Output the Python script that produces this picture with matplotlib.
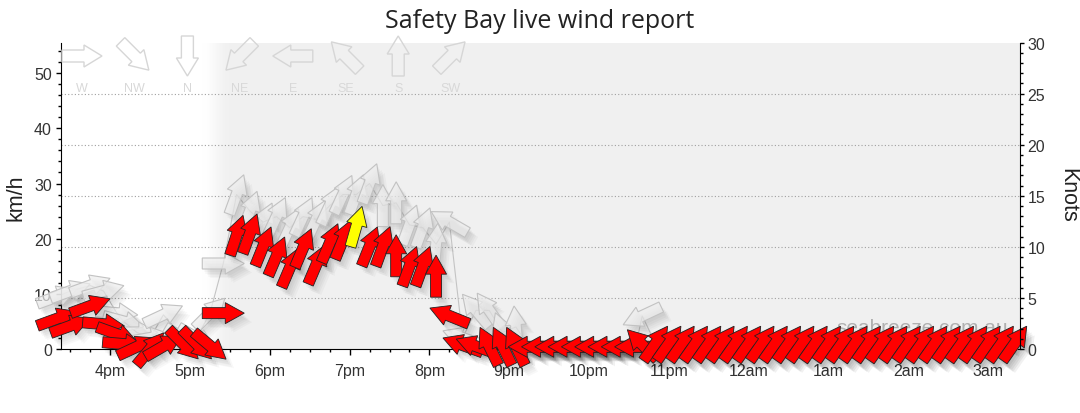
import numpy as np
import matplotlib
matplotlib.use("Agg")
import matplotlib.pyplot as plt
from matplotlib.patches import Polygon
from matplotlib import transforms
from matplotlib.ticker import MultipleLocator, FixedLocator

plt.rcParams['font.family'] = ['Liberation Sans', 'DejaVu Sans']

KMH_PER_KNOT = 1.852

# observation times (local), wind / gust in km/h, direction the wind comes FROM (deg)
times = ["15:20", "15:30", "15:45", "15:55", "16:05", "16:10", "16:20", "16:30",
         "16:40", "16:55", "17:05", "17:15", "17:25",
         "17:35", "17:45", "17:55", "18:05", "18:15", "18:25", "18:35", "18:45",
         "18:55", "19:05", "19:15", "19:25", "19:35", "19:45", "19:55", "20:05",
         "20:15", "20:25", "20:35", "20:45", "20:55", "21:05",
         "21:15", "21:25", "21:35", "21:45", "21:55", "22:05", "22:15", "22:25", "22:35",
         "22:40",
         "22:50", "23:00", "23:10", "23:20", "23:30", "23:40", "23:50", "00:00",
         "00:10", "00:20", "00:30", "00:40", "00:50", "01:00", "01:10", "01:20",
         "01:30", "01:40", "01:50", "02:00", "02:10", "02:20", "02:30", "02:40",
         "02:50", "03:00", "03:10", "03:20"]

wind_kmh = [5.5, 4.2, 7.8, 4.5, 2.7, 0.9, 0.4, 0.0, 0.5, 0.9, 0.9, 0.6, 6.5,
            20.6, 20.9, 18.6, 16.8, 14.7, 18.3, 15.3, 19.2, 19.8, 22.2, 18.6, 18.6,
            16.9, 15.0, 15.0, 13.2,
            6.0, 0.7, 0.5, 0.5, 0.5, 0.5,
            0.4, 0.4, 0.4, 0.4, 0.4, 0.4, 0.4, 0.4, 0.4,
            0.8,
            1.0, 1.0, 1.0, 1.0, 1.0, 1.0, 1.0, 1.0, 1.0, 1.0, 1.0, 1.0, 1.0, 1.0,
            1.0, 1.0, 1.0, 1.0, 1.0, 1.0, 1.0, 1.0, 1.0, 1.0, 1.0, 1.0, 1.0, 1.0]

wind_dir = [250, 250, 250, 275, 290, 275, 245, 220, 240, 315, 315, 310, 270,
            198, 200, 202, 203, 203, 203, 203, 203, 202, 196, 202, 200,
            180, 200, 200, 180,
            112, 110, 110, 154, 154, 154,
            90, 90, 90, 90, 90, 90, 90, 90, 90,
            135,
            215, 215, 215, 215, 215, 215, 215, 215, 215, 215, 215, 215, 215, 215,
            215, 215, 215, 215, 215, 215, 215, 215, 215, 215, 215, 215, 215, 215]

gust_kmh = [9.5, 10.5, 11.5, 10.5, 6.5, 5.0, 3.0, 2.0, 6.2, 2.0, 2.0, 6.5, 15.5,
            28.0, 25.0, 23.0, 24.0, 22.0, 24.0, 23.5, 26.0, 28.0, 28.0, 30.0, 26.0,
            26.5, 22.5, 22.0, 19.0,
            23.0, 2.0, 7.0, 7.0, 3.0, 4.0,
            0.4, 0.4, 0.4, 0.4, 0.4, 0.4, 0.4, 0.4, 0.4,
            6.0,
            1.0, 1.0, 1.0, 1.0, 1.0, 1.0, 1.0, 1.0, 1.0, 1.0, 1.0, 1.0, 1.0, 1.0,
            1.0, 1.0, 1.0, 1.0, 1.0, 1.0, 1.0, 1.0, 1.0, 1.0, 1.0, 1.0, 1.0, 1.0]

gust_dir = [250, 250, 250, 255, 275, 285, 270, 260, 245, 300, 300, 225, 270,
            200, 200, 205, 205, 205, 205, 205, 205, 205, 200, 200, 180,
            180, 200, 200, 185,
            120, 110, 140, 145, 160, 175,
            90, 90, 90, 90, 90, 90, 90, 90, 90,
            65,
            215, 215, 215, 215, 215, 215, 215, 215, 215, 215, 215, 215, 215, 215,
            215, 215, 215, 215, 215, 215, 215, 215, 215, 215, 215, 215, 215, 215]

highlight = "19:05"

hour_ticks = [16, 17, 18, 19, 20, 21, 22, 23, 24, 25, 26, 27]
hour_labels = ["4pm", "5pm", "6pm", "7pm", "8pm", "9pm", "10pm", "11pm",
               "12am", "1am", "2am", "3am"]

compass_labels = ["W", "NW", "N", "NE", "E", "SE", "S", "SW"]
compass_from = [270, 315, 0, 45, 90, 135, 180, 225]


def to_hours(s):
    h, m = s.split(":")
    h = int(h)
    if h < 12:
        h += 24
    return h + int(m) / 60


def arrow_verts(from_deg, length=42, shaft=11, head=21, head_len=19):
    half = length / 2
    base = half - head_len
    pts = np.array([[-half, -shaft / 2], [base, -shaft / 2], [base, -head / 2],
                    [half, 0], [base, head / 2], [base, shaft / 2],
                    [-half, shaft / 2]])
    ang = np.deg2rad(90 - (from_deg + 180))
    rot = np.array([[np.cos(ang), -np.sin(ang)], [np.sin(ang), np.cos(ang)]])
    return pts @ rot.T / 100.0  # inches at 100 dpi


def draw_arrow(ax, x, y, from_deg, face, edge, lw, z, base, shadow=True, **kw):
    trans = fig.dpi_scale_trans + transforms.ScaledTranslation(x, y, base)
    verts = arrow_verts(from_deg, **kw)
    if shadow:
        for dx, dy in [(2, -3), (3, -5), (5, -6), (6, -8), (8, -9)]:
            sh = Polygon(verts + np.array([dx, dy]) / 100.0, closed=True,
                         transform=trans, facecolor='black', edgecolor='none',
                         alpha=0.028, zorder=z - 0.5, clip_on=False)
            ax.add_patch(sh)
    p = Polygon(verts, closed=True, transform=trans, facecolor=face,
                edgecolor=edge, lw=lw, zorder=z, clip_on=False)
    ax.add_patch(p)


W, H = 1080, 414
fig = plt.figure(figsize=(W / 100, H / 100), dpi=100)
ax = fig.add_axes([61.3 / W, 64 / H, (1019.7 - 61.3) / W, (350 - 43.5) / H])

xmin, xmax = 15.387, 27.397
ymax = 30 * KMH_PER_KNOT

# night shading with soft edge at sunset
xs = np.linspace(xmin, xmax, 1500)
ramp = np.clip((xs - 17.15) / 0.35, 0, 1)
ramp = ramp * ramp * (3 - 2 * ramp)
shade = 1 - (1 - 0.945) * ramp
rgb = np.dstack([np.tile(shade, (2, 1))] * 3)
ax.imshow(rgb, extent=[xmin, xmax, 0, ymax], aspect='auto', zorder=0,
          interpolation='bilinear')

for k in range(5, 30, 5):
    ax.axhline(k * KMH_PER_KNOT, color='#a0a0a0', lw=0.8, ls=(0, (1, 2)), zorder=0.5)

ax.set_xlim(xmin, xmax)
ax.set_ylim(0, ymax)

ax.text(1008 / W, 1 - 329 / H, "seabreeze.com.au", transform=fig.transFigure,
        ha='right', va='center', fontsize=15, color='#b0b0b0', zorder=1)

t = [to_hours(s) for s in times]

# gust line + gust arrows
ax.plot(t, gust_kmh, color='#c4c4c4', lw=0.8, zorder=2)
for x, g, d in zip(t, gust_kmh, gust_dir):
    draw_arrow(ax, x, g, d, (0.93, 0.93, 0.93, 0.7), '#c2c2c2', 0.8, 3,
               ax.transData)

# wind arrows
for s, x, v, d in zip(times, t, wind_kmh, wind_dir):
    face = '#ffff00' if s == highlight else '#ff0000'
    draw_arrow(ax, x, v, d, face, '#222222', 0.6, 5, ax.transData)

# compass key at top
for i, (lab, d) in enumerate(zip(compass_labels, compass_from)):
    cx = (82 + 52.7 * i) / W
    cy = 1 - 57 / H
    draw_arrow(ax, cx, cy, d, 'none', '#d6d6d6', 1.0, 6, fig.transFigure,
               shadow=False, length=40, shaft=12, head=22, head_len=18)
    ax.text(cx, 1 - 88.5 / H, lab, transform=fig.transFigure, ha='center',
            va='center', fontsize=9, color='#d8d8d8', zorder=6)

# axes styling
for sp in ['top', 'right']:
    ax.spines[sp].set_visible(False)
ax.spines['left'].set_color('black')
ax.spines['bottom'].set_color('black')

ax.xaxis.set_major_locator(FixedLocator(hour_ticks))
ax.set_xticklabels(hour_labels)
ax.xaxis.set_minor_locator(MultipleLocator(0.25))
ax.yaxis.set_major_locator(MultipleLocator(10))
ax.yaxis.set_minor_locator(MultipleLocator(2))
ax.tick_params(axis='x', which='major', length=4.3, width=1, pad=6,
               labelsize=11.5, labelcolor='#333333')
ax.tick_params(axis='x', which='minor', length=2.2, width=1)
ax.tick_params(axis='y', which='major', length=3.3, width=1, pad=3.5,
               labelsize=11.5, labelcolor='#333333')
ax.tick_params(axis='y', which='minor', length=2.0, width=1)

ax2 = ax.twinx()
ax2.set_ylim(0, 30)
for sp in ['top', 'left', 'bottom']:
    ax2.spines[sp].set_visible(False)
ax2.spines['right'].set_color('black')
ax2.yaxis.set_major_locator(MultipleLocator(5))
ax2.yaxis.set_minor_locator(MultipleLocator(1))
ax2.tick_params(axis='y', which='major', length=3.0, width=1, pad=2.5,
                labelsize=11.5, labelcolor='#333333')
ax2.tick_params(axis='y', which='minor', length=2.5, width=1)

fig.text(0.5, 1 - 22 / H, "Safety Bay live wind report", ha='center', va='center',
         fontsize=18, family=['Open Sans', 'DejaVu Sans'], color='#222222')
fig.text(16 / W, 1 - 198 / H, "km/h", rotation=90, ha='center', va='center',
         fontsize=15.5, color='#222222')
fig.text(1068 / W, 1 - 195 / H, "Knots", rotation=-90, ha='center', va='center',
         fontsize=15.5, color='#222222')

fig.savefig("out.png", dpi=100)
